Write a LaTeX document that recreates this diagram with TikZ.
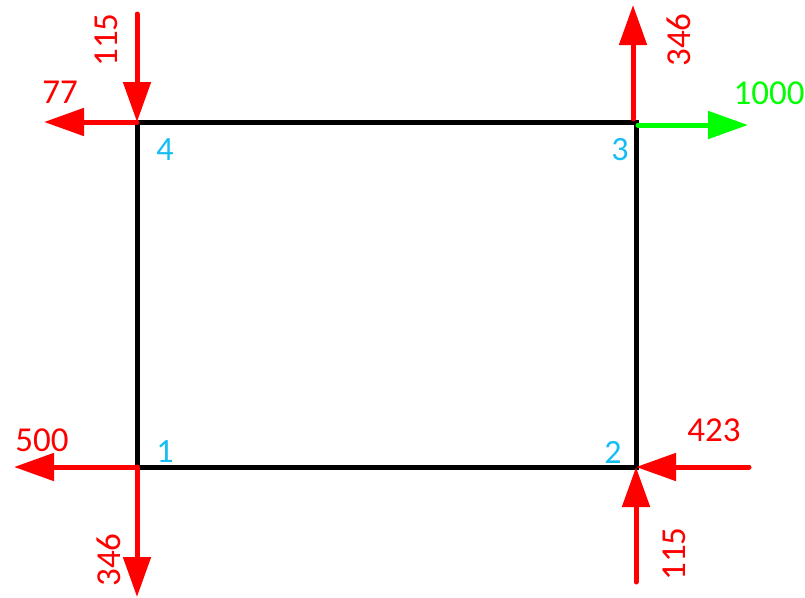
\documentclass[tikz,border=0pt]{standalone}
\usepackage{fontspec}
\setmainfont{Carlito}
\usetikzlibrary{arrows.meta}
\definecolor{fred}{RGB}{255,0,0}
\definecolor{fgreen}{RGB}{0,255,0}
\definecolor{fcyan}{RGB}{20,190,245}
\begin{document}
\begin{tikzpicture}[x=1pt,y=-1pt,
  frame/.style={line width=5pt,black},
  force/.style={line width=5pt,fred,line cap=round,-{Triangle[length=40pt,width=27pt]}},
  gforce/.style={force,draw=fgreen,fill=fgreen},
  flabel/.style={text=fred,font=\fontsize{35}{35}\selectfont,inner sep=0pt},
  glabel/.style={flabel,text=fgreen},
  clabel/.style={text=fcyan,font=\fontsize{34}{34}\selectfont,inner sep=0pt}]
\useasboundingbox (0,0) rectangle (805,597);
% corners
\coordinate (c1) at (137,467);
\coordinate (c2) at (636,467);
\coordinate (c3) at (636,122);
\coordinate (c4) at (137,122);
\draw[frame] (c1) -- (c2) -- (c3) -- (c4) -- cycle;
% free ends
\coordinate (e4t) at (137,14);
\coordinate (e4l) at (44,122);
\coordinate (e3t) at (633,5);
\coordinate (c3b) at (633,119);
\coordinate (c3g) at (638,125);
\coordinate (e3r) at (748,125);
\coordinate (e1l) at (14,467);
\coordinate (e1b) at (137,597);
\coordinate (e2r) at (749,467);
\coordinate (e2b) at (636,582);
% forces
\draw[force] (e4t) -- (c4);
\draw[force] (c4) -- (e4l);
\draw[force] (c3b) -- (e3t);
\draw[gforce] (c3g) -- (e3r);
\draw[force] (c1) -- (e1l);
\draw[force] (c1) -- (e1b);
\draw[force] (e2r) -- (c2);
\draw[force] (e2b) -- (c2);
% labels
\node[flabel,rotate=90] (l115a) at (106,40) {115};
\node[flabel] (l77) at (60,92) {77};
\node[flabel,rotate=90] (l346a) at (679,40) {346};
\node[glabel] (l1000) at (769,93) {1000};
\node[flabel] (l500) at (42,440) {500};
\node[flabel,rotate=90] (l346b) at (109,560) {346};
\node[flabel] (l423) at (714,430) {423};
\node[flabel,rotate=90] (l115b) at (674,554) {115};
\node[clabel] (n1) at (165,452) {1};
\node[clabel] (n2) at (613,452) {2};
\node[clabel] (n3) at (620,150) {3};
\node[clabel] (n4) at (165,150) {4};
\end{tikzpicture}
\end{document}
